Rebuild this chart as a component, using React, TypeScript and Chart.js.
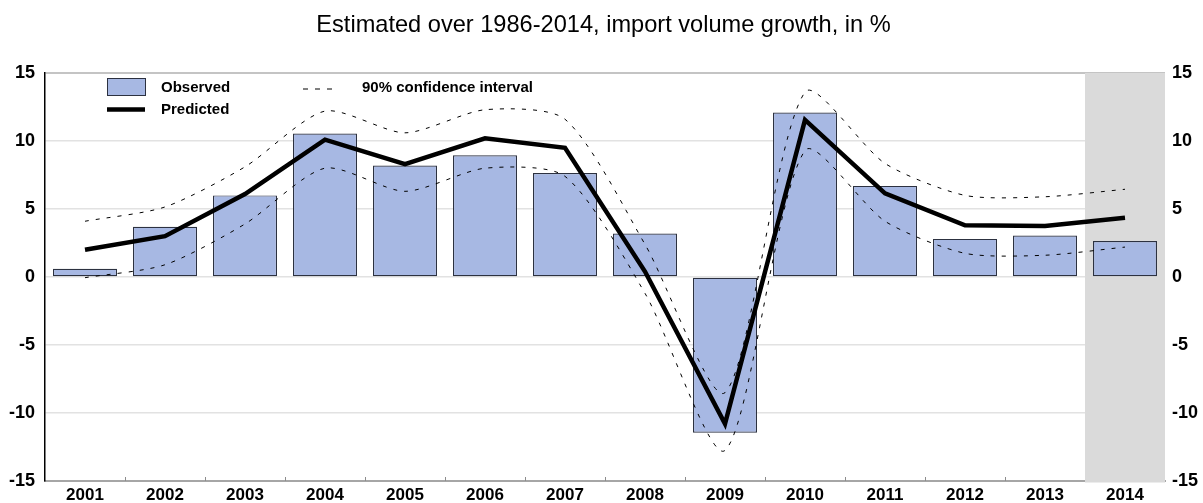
import React, { useEffect, useRef } from "react";
import { Chart, registerables } from "chart.js";

Chart.register(...registerables);

const categories = ["2001", "2002", "2003", "2004", "2005", "2006", "2007", "2008", "2009", "2010", "2011", "2012", "2013", "2014"];
const observed = [0.6, 3.7, 6.0, 10.55, 8.2, 8.95, 7.65, 3.2, -11.45, 12.1, 6.7, 2.8, 3.05, 2.65];
const predicted = [2.0, 3.0, 6.1, 10.1, 8.3, 10.2, 9.5, 0.4, -10.8, 11.55, 6.15, 3.8, 3.75, 4.35];
const ciUpper = [4.1, 5.15, 8.1, 12.2, 10.6, 12.3, 11.6, 2.4, -8.5, 13.6, 8.35, 6.0, 5.9, 6.45];
const ciLower = [-0.05, 0.9, 3.9, 8.0, 6.3, 8.0, 7.4, -1.2, -12.75, 9.3, 4.1, 1.74, 1.6, 2.2];
const yTicks = [-15, -10, -5, 0, 5, 10, 15];
const titleText = "Estimated over 1986-2014, import volume growth, in %";
const shadedCategory = "2014";

const BAR_FILL = "#a7b8e3";
const BAR_BORDER = "#2c3140";
const FONT = "'Liberation Sans', Arial, sans-serif";

const customPlugin = {
  id: "customDecor",
  beforeDatasetsDraw(chart: any) {
    const { ctx, chartArea, scales } = chart;
    const x = scales.x;
    const idx = categories.indexOf(shadedCategory);
    const step = (chartArea.right - chartArea.left) / categories.length;
    const left = x.getPixelForValue(idx) - step / 2;
    ctx.save();
    ctx.fillStyle = "#dadada";
    ctx.fillRect(left, chartArea.top, chartArea.right - left, chartArea.bottom - chartArea.top + 1.5);
    // small category boundary ticks
    ctx.strokeStyle = "#8c8c8c";
    ctx.lineWidth = 1;
    for (let i = 1; i < idx; i++) {
      const bx = Math.round(x.getPixelForValue(i) - step / 2) + 0.5;
      ctx.beginPath();
      ctx.moveTo(bx, chartArea.bottom - 4);
      ctx.lineTo(bx, chartArea.bottom);
      ctx.stroke();
    }
    ctx.restore();
  },
  afterDraw(chart: any) {
    const { ctx, chartArea } = chart;
    ctx.save();
    // title
    ctx.fillStyle = "#000";
    ctx.font = `23.6px ${FONT}`;
    ctx.textAlign = "center";
    ctx.textBaseline = "alphabetic";
    ctx.fillText(titleText, chart.width / 2 + 2, 32);
    // legend
    const lx = chartArea.left + 62;
    ctx.fillStyle = BAR_FILL;
    ctx.fillRect(lx, 78.5, 38, 17);
    ctx.strokeStyle = BAR_BORDER;
    ctx.lineWidth = 1;
    ctx.strokeRect(lx + 0.5, 78.5, 38, 17);
    ctx.strokeStyle = "#000";
    ctx.lineWidth = 4.5;
    ctx.beginPath();
    ctx.moveTo(lx, 109.5);
    ctx.lineTo(lx + 38, 109.5);
    ctx.stroke();
    ctx.lineWidth = 1;
    ctx.setLineDash([5, 7]);
    ctx.beginPath();
    ctx.moveTo(303, 89);
    ctx.lineTo(338, 89);
    ctx.stroke();
    ctx.setLineDash([]);
    ctx.fillStyle = "#000";
    ctx.font = `bold 15px ${FONT}`;
    ctx.textAlign = "left";
    ctx.textBaseline = "middle";
    ctx.fillText("Observed", 161, 88);
    ctx.fillText("Predicted", 161, 110);
    ctx.fillText("90% confidence interval", 362, 88);
    ctx.restore();
  },
};

export default function App() {
  const ref = useRef<HTMLCanvasElement | null>(null);
  useEffect(() => {
    if (!ref.current) return;
    const chart = new Chart(ref.current, {
      type: "bar",
      data: {
        labels: categories,
        datasets: [
          {
            type: "line",
            label: "Predicted",
            data: predicted,
            borderColor: "#000",
            borderWidth: 4.5,
            pointRadius: 0,
            tension: 0,
            fill: false,
            order: 1,
          } as any,
          {
            type: "line",
            label: "90% confidence interval",
            data: ciUpper,
            borderColor: "#000",
            borderWidth: 1,
            borderDash: [4, 7],
            pointRadius: 0,
            tension: 0.25,
            fill: false,
            order: 2,
          } as any,
          {
            type: "line",
            label: "lower",
            data: ciLower,
            borderColor: "#000",
            borderWidth: 1,
            borderDash: [4, 7],
            pointRadius: 0,
            tension: 0.25,
            fill: false,
            order: 2,
          } as any,
          {
            type: "bar",
            label: "Observed",
            data: observed,
            backgroundColor: BAR_FILL,
            borderColor: BAR_BORDER,
            borderWidth: 1.2,
            borderSkipped: false,
            barPercentage: 0.8,
            categoryPercentage: 1,
            order: 3,
          } as any,
        ],
      },
      options: {
        responsive: false,
        animation: false,
        maintainAspectRatio: false,
        layout: { padding: { top: 73, left: 0, right: 0, bottom: 0 } },
        plugins: {
          legend: { display: false },
          title: { display: false },
          tooltip: { enabled: false },
        },
        scales: {
          x: {
            offset: true,
            grid: { display: false, drawTicks: false },
            border: { display: true, color: "#a6a6a6", width: 2 },
            ticks: {
              color: "#000",
              font: { family: FONT, size: 17, weight: "bold" },
              padding: 4,
              maxRotation: 0,
              autoSkip: false,
            },
            afterFit: (s: any) => {
              s.height = 22;
            },
          },
          y: {
            position: "left",
            min: -15,
            max: 15,
            afterBuildTicks: (s: any) => {
              s.ticks = yTicks.map((v) => ({ value: v }));
            },
            grid: {
              drawTicks: false,
              color: (c: any) => (c.tick && c.tick.value === 15 ? "#c4c4c4" : c.tick && c.tick.value === -15 ? "rgba(0,0,0,0)" : "#e2e2e2"),
              lineWidth: (c: any) => (c.tick && c.tick.value === 15 ? 2 : 1.5),
            },
            border: { display: true, color: "#000", width: 1.5 },
            ticks: {
              color: "#000",
              font: { family: FONT, size: 18, weight: "bold" },
              padding: 10,
            },
            afterFit: (s: any) => {
              s.width = 45;
            },
          },
          y2: {
            position: "right",
            min: -15,
            max: 15,
            afterBuildTicks: (s: any) => {
              s.ticks = yTicks.map((v) => ({ value: v }));
            },
            grid: { display: false, drawTicks: false },
            border: { display: false },
            ticks: {
              color: "#000",
              font: { family: FONT, size: 18, weight: "bold" },
              padding: 7,
            },
            afterFit: (s: any) => {
              s.width = 38;
            },
          },
        },
      },
      plugins: [customPlugin],
    });
    return () => chart.destroy();
  }, []);
  return (
    <div style={{ position: "absolute", left: 0, top: 0, width: 1203, height: 503, background: "#fff" }}>
      <canvas ref={ref} width={1203} height={503} style={{ display: "block", width: 1203, height: 503 }} />
    </div>
  );
}
